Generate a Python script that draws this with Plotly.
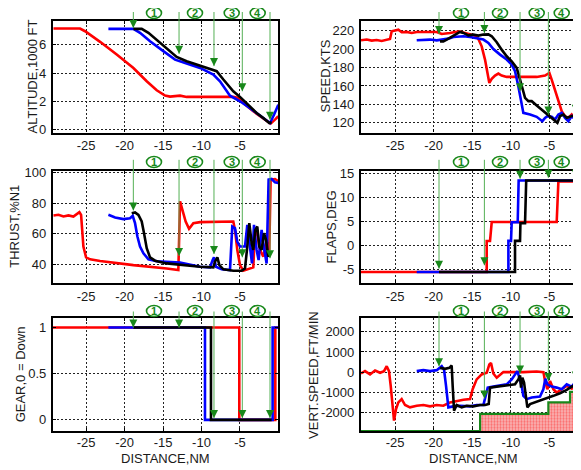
import plotly.graph_objects as go

# ---------------- data ----------------
DIST_TICKS = [-25, -20, -15, -10, -5]
DIST_TICKTEXT = ["-25", "-20", "-15", "-10", "-5"]

# Altitude (1000 ft)
ALT_RED_X = [-29.24, -25.78, -25.13, -23.18, -21.02, -18.85, -17.12, -15.82, -14.74, -14.09, -12.79, -11.93, -10.19, -5.87, -5.22, -4.57, -3.27, -1.97, -1.02, -0.45, -0.02]
ALT_RED_Y = [7.16, 7.16, 6.97, 6.22, 5.32, 4.37, 3.43, 2.79, 2.41, 2.34, 2.41, 2.32, 2.32, 2.32, 2.25, 1.89, 1.30, 0.83, 0.43, 0.71, 0.95]
ALT_BLUE_X = [-22.1, -18.85, -17.99, -16.69, -14.96, -13.44, -11.93, -10.19, -8.46, -7.6, -6.3, -5.0, -3.92, -2.84, -1.97, -1.1, -0.58, -0.02]
ALT_BLUE_Y = [7.14, 7.14, 6.86, 6.26, 5.56, 4.96, 4.68, 4.37, 3.90, 3.43, 2.41, 2.01, 1.61, 1.18, 0.83, 0.47, 1.06, 1.77]
ALT_BLACK_X = [-18.85, -17.77, -16.9, -15.82, -14.52, -13.23, -11.93, -10.19, -8.03, -7.16, -5.87, -5.0, -3.92, -2.84, -1.97, -1.19, -0.89]
ALT_BLACK_Y = [7.14, 7.14, 6.86, 6.34, 5.72, 5.15, 4.85, 4.54, 4.14, 3.55, 2.72, 2.32, 1.77, 1.18, 0.83, 0.47, 0.52]

# Speed (kts)
SPD_RED_X = [-29.41, -28.67, -28.02, -27.38, -26.73, -26.08, -25.65, -25.43, -25.0, -24.57, -24.14, -23.49, -22.84, -22.19, -21.33, -20.46, -19.6, -18.95, -18.3, -17.87, -17.22, -16.58, -15.93, -15.28, -14.63, -14.2, -13.77, -13.34, -12.99, -12.78, -12.47, -12.04, -11.61, -11.18, -10.53, -8.37, -6.64, -5.56, -5.0, -4.7, -4.05, -3.4, -2.97, -2.54, -2.11, -1.67, -1.24, -0.9]
SPD_RED_Y = [209.5, 210.3, 209.2, 209.9, 208.8, 209.9, 211, 219.3, 220.4, 221.1, 218.3, 218.6, 217.5, 218.6, 218.6, 218.3, 218.6, 216.4, 216.8, 217.5, 218.6, 219, 217.5, 216.4, 214.6, 211, 203, 188.6, 174.2, 163.3, 167.7, 171.3, 173.4, 171.3, 169.8, 169.8, 169.8, 171.3, 174.2, 166.9, 148.9, 132.6, 127.2, 125.4, 129, 123.6, 127.2, 121.8]
SPD_BLUE_X = [-22.19, -21.33, -20.46, -19.6, -18.74, -18.09, -17.44, -16.79, -16.14, -15.28, -14.42, -13.55, -12.9, -12.26, -11.39, -10.53, -9.88, -9.45, -9.02, -8.59, -8.37, -7.5, -6.64, -5.91, -5.56, -5.26, -4.7, -4.27, -3.83, -3.4, -2.97, -2.54, -2.11, -1.67, -1.24, -0.9]
SPD_BLUE_Y = [209.5, 209.9, 210.3, 209.5, 210.3, 211.3, 213.1, 213.9, 213.9, 213.1, 211.7, 210.3, 206.6, 200.1, 194, 188.6, 183.2, 176, 159.7, 141.7, 130.8, 129, 126.5, 121.8, 125.4, 127.2, 126.5, 123.6, 129, 130.8, 125.4, 121.8, 127.2, 124.3, 129, 127.2]
SPD_BLACK_X = [-19.17, -18.74, -18.3, -17.66, -17.01, -16.58, -16.14, -15.5, -14.85, -14.2, -13.55, -12.9, -12.47, -11.82, -11.18, -10.53, -9.88, -9.23, -8.8, -8.5, -8.15, -7.72, -7.29, -6.64, -5.77, -4.91, -4.27, -3.96, -3.62, -3.18, -2.75, -2.11, -1.46, -1.12, -0.9]
SPD_BLACK_Y = [208.4, 208.4, 210.3, 213.1, 216, 218.6, 217.5, 214.9, 215.7, 214.6, 215.7, 216, 213.9, 207.4, 199.4, 192.2, 186.8, 179.6, 166.9, 157.9, 147.1, 143.5, 143.5, 138.8, 132.6, 127.2, 122.9, 120, 127.2, 129, 125.4, 127.2, 129, 134.4, 141.7]

# Thrust (%N1)
THR_RED_X = [-29.24, -28.59, -27.94, -27.29, -26.65, -26.13, -25.87, -25.65, -25.35, -25.0, -24.48, -23.18, -18.85, -14.52, -13.01, -12.79, -12.45, -12.06, -11.62, -11.06, -10.19, -5.87, -5.65, -5.35, -5.0, -4.57, -3.27, -3.05, -2.75, -2.4, -1.97, -1.54, -1.19, -1.02, -0.45, -0.02]
THR_RED_Y = [72.0, 72.4, 71.3, 72.0, 71.3, 73.5, 74.2, 72.4, 51.5, 44.4, 43.1, 42.0, 39.3, 37.1, 36.0, 81.3, 75.7, 68.0, 63.2, 66.9, 67.6, 68.0, 62.5, 49.3, 39.3, 35.6, 37.8, 62.5, 59.2, 49.3, 44.9, 54.8, 49.3, 95.6, 96.0, 94.5]
THR_BLUE_X = [-22.1, -21.23, -20.15, -19.29, -18.94, -18.64, -18.33, -17.99, -17.55, -16.9, -15.82, -13.66, -12.79, -10.19, -8.9, -8.55, -8.38, -8.12, -7.38, -6.3, -6.0, -5.65, -5.35, -5.0, -4.35, -4.05, -3.7, -3.44, -3.18, -2.84, -2.58, -2.19, -1.84, -1.54, -1.28, -0.89, -0.45, -0.02]
THR_BLUE_Y = [72.4, 70.7, 69.6, 70.2, 71.8, 66.9, 58.1, 51.5, 47.1, 43.1, 41.8, 41.3, 40.9, 38.2, 37.8, 42.6, 44.4, 38.2, 36.5, 36.0, 64.7, 63.6, 54.8, 51.5, 51.5, 65.8, 49.3, 40.4, 65.8, 49.3, 42.6, 62.5, 49.3, 40.4, 95.6, 96.0, 93.8, 93.4]
THR_BLACK_X = [-19.07, -18.64, -18.2, -17.77, -17.47, -17.12, -16.69, -16.04, -14.52, -12.36, -10.19, -8.46, -8.25, -7.94, -7.68, -7.16, -5.87, -4.78, -4.35, -4.05, -3.79, -3.48, -3.27, -3.01, -2.75, -2.49, -2.19, -1.88, -1.62, -1.32, -1.1]
THR_BLACK_Y = [73.5, 74.0, 72.4, 68.0, 60.3, 50.4, 44.4, 42.2, 40.4, 39.3, 38.2, 37.8, 41.5, 44.4, 39.3, 36.5, 35.6, 35.6, 37.1, 51.5, 66.9, 53.7, 49.3, 62.5, 64.7, 51.5, 49.3, 60.3, 55.9, 44.9, 47.1]

# Flaps (deg)
FLP_RED_X = [-29.41, -13.12, -13.12, -12.69, -12.47, -4.05, -3.83, -0.5]
FLP_RED_Y = [-5.5, -5.5, 0.97, 0.97, 4.93, 4.93, 13.4, 13.4]
FLP_BLUE_X = [-22.19, -10.31, -10.31, -9.97, -9.88, -9.1, -8.98, -1.15, -1.12, -0.5]
FLP_BLUE_Y = [-5.5, -5.5, 1.0, 1.0, 4.9, 4.9, 13.6, 13.6, 3.0, 3.0]
FLP_BLACK_X = [-19.3, -9.45, -9.45, -8.8, -8.75, -8.15, -8.0, -0.5]
FLP_BLACK_Y = [-5.5, -5.5, 1.0, 1.0, 4.7, 4.7, 13.6, 13.6]

# Gear (1 = up, 0 = down)
GEAR_RED_X = [-29.3, -5.09, -5.09, -0.41, -0.41, 0.0]
GEAR_RED_Y = [1, 1, 0, 0, 1, 1]
GEAR_BLUE_X = [-22.1, -9.55, -9.55, -0.76, -0.76, 0.0]
GEAR_BLUE_Y = [1, 1, 0, 0, 1, 1]
GEAR_BLACK_X = [-18.85, -8.77, -8.77, -0.89]
GEAR_BLACK_Y = [1, 1, 0, 0]

# Vertical speed (ft/min)
VS_RED_X = [-29.41, -28.89, -28.24, -27.59, -26.94, -26.43, -26.08, -25.78, -25.56, -25.35, -25.13, -24.87, -24.57, -24.14, -23.7, -23.06, -22.19, -21.33, -20.46, -19.6, -18.74, -17.87, -17.01, -16.14, -15.28, -14.94, -14.42, -13.77, -13.12, -12.78, -12.56, -12.26, -11.82, -11.39, -10.96, -8.37, -6.64, -5.77, -5.56, -5.26, -4.91, -4.48, -4.05, -3.4, -2.75, -2.11, -1.46, -0.9]
VS_RED_Y = [-65, 49, -114, 82, -33, 49, 294, 49, -686, -1666, -2400, -1829, -1502, -1339, -1633, -1747, -1666, -1633, -1698, -1633, -1666, -1502, -1421, -1372, -1339, -849, -359, -114, -33, 376, 457, -65, -278, -114, 0, 0, 33, 0, -441, -849, -441, -849, -1012, -849, -686, -817, -719, -768]
VS_BLUE_X = [-22.19, -21.33, -20.46, -19.6, -18.95, -18.65, -18.39, -18.09, -17.44, -16.58, -15.28, -14.42, -13.55, -13.21, -12.99, -12.26, -11.39, -10.53, -9.88, -9.45, -9.15, -8.89, -8.59, -8.37, -7.94, -7.29, -6.21, -5.78, -5.52, -5.26, -4.7, -4.05, -3.4, -2.75, -2.11, -1.67, -1.37, -1.16, -0.9]
VS_BLUE_Y = [49, 98, 49, 98, 294, 131, -686, -1747, -1698, -1666, -1698, -1633, -1633, -1176, -768, -719, -653, -604, -359, -114, 49, -278, -686, -1176, -1339, -1257, -1208, -849, -327, -604, -719, -768, -849, -604, -719, -523, 621, 1764, 2580]
VS_BLACK_X = [-19.17, -18.52, -17.96, -17.66, -17.53, -17.35, -17.01, -16.36, -15.71, -14.85, -13.98, -13.34, -12.86, -12.69, -11.82, -10.96, -10.1, -9.45, -9.02, -8.8, -8.67, -8.5, -8.28, -8.07, -7.85, -7.5, -6.86, -6.21, -5.35, -4.48, -3.62, -2.75, -2.11, -1.46, -1.2, -1.03, -0.9]
VS_BLACK_Y = [212, 163, 212, 327, -686, -1911, -1633, -1747, -1666, -1698, -1633, -1633, -1584, -768, -719, -686, -653, -604, -359, -163, -768, -278, -523, -1176, -1747, -1584, -1502, -1421, -1306, -1176, -1045, -882, -719, -604, 294, 1192, 1274]

# Hatched limit region (step boundary)
VS_LIMIT_X = [-29.41, -13.98, -5.13, -2.32, -0.5]
VS_LIMIT_Y = [-2920, -2074, -1502, -980, -980]

# Event markers (arrows) and labels
ARROW_X_LEFT = [-18.86, -12.92, -8.38, -4.70, -1.10]
ARROW_X_RIGHT = [-19.30, -13.42, -8.80, -5.13, -1.58]
ALT_ARROW_TIPS = [7.2, 5.37, 4.5, 2.72, 0.71]
SPD_ARROW_TIPS = [216.4, 217.5, 154.3, 129.0, 130.8]
THR_ARROW_TIPS = [75.3, 45.3, 46.6, 44.4, 43.8]
FLP_ARROW_TIPS = [-4.8, -4.1, 14.0, 14.2, 14.2]
GEAR_ARROW_TIPS = [1.0, 1.0, 0.02, 0.02, 0.02]
VS_ARROW_TIPS = [294, -1306, -65, -440, -360]
EVENT_LABELS = ["1", "2", "3", "4"]

RED, BLUE, BLACK = "#ff0000", "#0000ff", "#000000"
LINE_GREEN = "#55b055"
HEAD_GREEN = "#18881a"
FONT = "Liberation Sans, Arial, sans-serif"
TXT = "#1a1a1a"

# The page body has an 8px margin, so the figure is drawn 8px in from the window corner.
WIN_W, WIN_H, OFF = 581, 470, 8
W, H = WIN_W - OFF, WIN_H - OFF
def px_x(p):
    return (p - OFF) / W
def px_y(p):
    return 1 - (p - OFF) / H

fig = go.Figure()

# layout geometry (window pixels)
LEFT_DOM = [px_x(53), px_x(278)]
RIGHT_DOM = [px_x(361), 1.0]
ROWS = [(20.5, 132.5), (170.5, 283), (318.3, 431)]
def ydom(r):
    t, b = ROWS[r]
    return [px_y(b), px_y(t)]

panels = [
    (1, 0, 0, [-0.2, 7.73], [0, 2, 4, 6], ["0", "2", "4", "6"], "ALTITUDE,1000 FT", 32,
     [(ALT_RED_X, ALT_RED_Y, RED), (ALT_BLUE_X, ALT_BLUE_Y, BLUE), (ALT_BLACK_X, ALT_BLACK_Y, BLACK)], ALT_ARROW_TIPS),
    (2, 1, 0, [109.5, 231], [120, 140, 160, 180, 200, 220], ["120", "140", "160", "180", "200", "220"], "SPEED,KTS", 325,
     [(SPD_RED_X, SPD_RED_Y, RED), (SPD_BLUE_X, SPD_BLUE_Y, BLUE), (SPD_BLACK_X, SPD_BLACK_Y, BLACK)], SPD_ARROW_TIPS),
    (3, 0, 1, [27.5, 101.6], [40, 60, 80, 100], ["40", "60", "80", "100"], "THRUST,%N1", 15,
     [(THR_RED_X, THR_RED_Y, RED), (THR_BLUE_X, THR_BLUE_Y, BLUE), (THR_BLACK_X, THR_BLACK_Y, BLACK)], THR_ARROW_TIPS),
    (4, 1, 1, [-7.8, 15.7], [-5, 0, 5, 10, 15], ["-5", "0", "5", "10", "15"], "FLAPS,DEG", 331.7,
     [(FLP_RED_X, FLP_RED_Y, RED), (FLP_BLUE_X, FLP_BLUE_Y, BLUE), (FLP_BLACK_X, FLP_BLACK_Y, BLACK)], FLP_ARROW_TIPS),
    (5, 0, 2, [-0.12, 1.1], [0, 0.5, 1], ["0", "0.5", "1"], "GEAR,0 = Down", 20.7,
     [(GEAR_RED_X, GEAR_RED_Y, RED), (GEAR_BLUE_X, GEAR_BLUE_Y, BLUE), (GEAR_BLACK_X, GEAR_BLACK_Y, BLACK)], GEAR_ARROW_TIPS),
    (6, 1, 2, [-2920, 2670], [-2000, -1000, 0, 1000, 2000], ["-2000", "-1000", "0", "1000", "2000"], "VERT.SPEED,FT/MIN", 313.3,
     [(VS_RED_X, VS_RED_Y, RED), (VS_BLUE_X, VS_BLUE_Y, BLUE), (VS_BLACK_X, VS_BLACK_Y, BLACK)], VS_ARROW_TIPS),
]

ARROW_TOP_PX = [10.5, 158.3, 310]
CIRCLE_X_PX = [[154, 195, 231.7, 257.7], [461, 500, 536.7, 561.7]]
CIRCLE_Y_PX = [13, 162, 311]

layout_axes = {}
for n, col, row, yr, ytv, ytt, ytitle, tx, series, tips in panels:
    xs = "" if n == 1 else str(n)
    xname, yname = "x" + xs, "y" + xs
    if n == 6:
        fig.add_trace(go.Scatter(x=[VS_LIMIT_X[0], VS_LIMIT_X[-1]], y=[yr[0], yr[0]], mode="lines",
                                 line=dict(width=0, color="rgba(0,0,0,0)"), xaxis=xname, yaxis=yname,
                                 hoverinfo="skip", showlegend=False))
        fig.add_trace(go.Scatter(x=VS_LIMIT_X, y=VS_LIMIT_Y, mode="lines", line_shape="hv",
                                 line=dict(color=HEAD_GREEN, width=2.2), fill="tonexty",
                                 fillcolor="#f49a9a",
                                 fillpattern=dict(shape=".", fgcolor="#ff2020", bgcolor="#f8b8b8", size=3, solidity=0.45),
                                 xaxis=xname, yaxis=yname, showlegend=False))
    for x, y, c in series:
        fig.add_trace(go.Scatter(x=x, y=y, mode="lines", line=dict(color=c, width=2.6),
                                 xaxis=xname, yaxis=yname, showlegend=False))
    xdom = LEFT_DOM if col == 0 else RIGHT_DOM
    xr = [-29.3, -0.06] if col == 0 else [-29.41, -0.9]
    common = dict(showgrid=True, gridcolor="#222", griddash="2px,2px", gridwidth=1, zeroline=False,
                  showline=True, linecolor="black", linewidth=2.2, automargin=False,
                  ticks="inside", ticklen=3, tickwidth=1, tickcolor="black",
                  tickfont=dict(family=FONT, size=13, color=TXT))
    layout_axes["xaxis" + xs] = dict(
        domain=xdom, range=xr, anchor=yname, tickvals=DIST_TICKS, ticktext=DIST_TICKTEXT,
        mirror="ticks" if col == 0 else True, ticklabelstandoff=(-2 if row == 2 else 0),
        layer="below traces" if n == 6 else "above traces", **common)
    layout_axes["yaxis" + xs] = dict(
        domain=ydom(row), range=yr, anchor=xname, tickvals=ytv, ticktext=ytt,
        mirror="ticks" if col == 0 else False, ticklabelstandoff=2, **common)
    fig.add_annotation(text=ytitle, xref="paper", yref="paper", x=px_x(tx),
                       y=px_y((ROWS[row][0] + ROWS[row][1]) / 2), textangle=-90,
                       showarrow=False, xanchor="center", yanchor="middle",
                       font=dict(family=FONT, size=13, color=TXT))
    t_px, b_px = ROWS[row]
    top_val = yr[1] + (t_px - ARROW_TOP_PX[row]) / (b_px - t_px) * (yr[1] - yr[0])
    ax_list = ARROW_X_LEFT if col == 0 else ARROW_X_RIGHT
    for ax_, tip in zip(ax_list, tips):
        fig.add_annotation(x=ax_, y=tip, xref=xname, yref=yname, ax=ax_, ay=top_val,
                           axref=xname, ayref=yname, text="", showarrow=True,
                           arrowhead=0, arrowwidth=1, arrowcolor=LINE_GREEN)
        fig.add_annotation(x=ax_, y=tip, xref=xname, yref=yname, ax=0, ay=-9, text="",
                           showarrow=True, arrowhead=2, arrowsize=1.6, arrowwidth=1,
                           arrowcolor=HEAD_GREEN)
    for cx, lab in zip(CIRCLE_X_PX[col], EVENT_LABELS):
        cy = px_y(CIRCLE_Y_PX[row])
        fig.add_shape(type="circle", xref="paper", yref="paper", xsizemode="pixel", ysizemode="pixel",
                      xanchor=px_x(cx), yanchor=cy, x0=-7.5, x1=7.5, y0=-5.5, y1=5.5,
                      line=dict(color=HEAD_GREEN, width=1.6), fillcolor="white")
        fig.add_annotation(text="<b>" + lab + "</b>", xref="paper", yref="paper", x=px_x(cx), y=cy,
                           showarrow=False, xanchor="center", yanchor="middle",
                           font=dict(family=FONT, size=11, color=HEAD_GREEN))

for cxp in [165, 473.5]:
    fig.add_annotation(text="DISTANCE,NM", xref="paper", yref="paper", x=px_x(cxp), y=px_y(458),
                       showarrow=False, xanchor="center", yanchor="middle",
                       font=dict(family=FONT, size=13, color=TXT))

fig.update_layout(width=W, height=H, margin=dict(l=0, r=0, t=0, b=0, autoexpand=False),
                  paper_bgcolor="white", plot_bgcolor="white", showlegend=False,
                  font=dict(family=FONT, size=13, color=TXT), **layout_axes)

fig.write_html("out.html")
